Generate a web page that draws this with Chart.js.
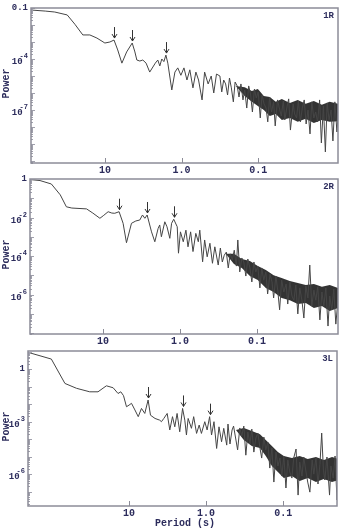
<!DOCTYPE html>
<html><head><meta charset="utf-8">
<script src="https://cdn.jsdelivr.net/npm/chart.js@4.4.1/dist/chart.umd.min.js"></script>
<style>
html,body{margin:0;padding:0;background:#fff;}
#wrap{position:relative;width:340px;height:531px;overflow:hidden;background:#fff;}
#wrap canvas{position:absolute;left:0;top:0;}
</style>
</head><body><div id="wrap"></div>
<script>
// ---------- shared axis labels ----------
const xTickValues = [10, 1, 0.1];
const xTickLabels = ['10', '1.0', '0.1'];
const xTitle = 'Period (s)';
const yTitle = 'Power';

// ---------- panel 1R ----------
const p1Period = [92, 60, 45, 31, 24.6, 19.4, 15.7, 12.7, 10, 8.6, 7.6, 6.8, 6.0, 5.2, 4.4, 4.06, 3.83, 3.5, 3.2, 2.9,
  2.6, 2.2, 2.04, 1.92, 1.81, 1.7, 1.6, 1.51, 1.34, 1.22, 1.12, 1.02, 0.93, 0.85, 0.78, 0.71, 0.65, 0.6, 0.54, 0.5,
  0.45, 0.41, 0.38, 0.35,
  0.316, 0.299, 0.282, 0.266, 0.251, 0.237, 0.224, 0.211, 0.2, 0.188, 0.178, 0.168, 0.158, 0.15, 0.141, 0.133, 0.126, 0.119, 0.112, 0.106,
  0.1, 0.094, 0.089, 0.084, 0.079, 0.075, 0.071, 0.067, 0.063, 0.06, 0.056, 0.053, 0.05, 0.047, 0.045, 0.042, 0.04, 0.038, 0.035, 0.0335,
  0.0316, 0.0299, 0.0282, 0.0266, 0.0251, 0.0237, 0.0224, 0.0211, 0.02, 0.0188, 0.0178, 0.0168, 0.0158, 0.015, 0.0141, 0.0133, 0.0126, 0.0119, 0.0112, 0.0106,
  0.01, 0.0094, 0.0089];
const p1Power = [7.6e-2, 6.6e-2, 5.8e-2, 3.9e-2, 1.1e-2, 2.6e-3, 2.6e-3, 1.7e-3, 8.7e-4, 1.0e-3, 1.3e-3, 3.4e-4, 5.7e-5, 2.6e-4, 8.7e-4, 2.6e-4, 8.7e-5, 7.6e-5, 8.7e-5, 5.7e-5,
  1.7e-5, 5.7e-5, 8.7e-5, 3.9e-5, 1e-4, 7e-5, 1.7e-4, 5.7e-5, 1.5e-6, 1.7e-5, 3e-5, 1.1e-5, 3e-5, 5.8e-6, 2.3e-5, 2e-6, 1.7e-5, 5.8e-6, 3.9e-7, 1.7e-5,
  3.4e-6, 1e-5, 1e-6, 1.3e-5,
  1e-5, 1.15e-6, 5.8e-6, 3.4e-6, 7.6e-7, 7.6e-6, 2e-6, 3e-7, 4.4e-6, 2.6e-6, 5.8e-7, 3.4e-6, 3.9e-7, 1.5e-6, 1.3e-7, 2.6e-6, 8.7e-7, 7.6e-8, 1.7e-6, 5.1e-7,
  1.15e-6, 3.4e-8, 7.6e-7, 2.3e-7, 1.3e-7, 2e-8, 5.8e-7, 7.6e-8, 3e-7, 1.15e-8, 3.9e-7, 1.3e-7, 4.4e-8, 3.4e-7, 2.6e-8, 1.7e-7, 4.5e-7, 6.6e-9, 2.3e-7, 5.8e-8,
  3.4e-8, 3.4e-7, 2e-8, 1.3e-7, 3.9e-7, 1.5e-8, 1e-7, 3.9e-9, 3e-7, 3.4e-8, 7.6e-8, 2e-8, 3.9e-7, 1.15e-9, 1.7e-7, 3.4e-10, 2.6e-7, 2.6e-8, 1e-7, 1.5e-9,
  3e-7, 5.1e-9, 1.7e-7];
const p1BandPeriod = [0.196, 0.15, 0.121, 0.101, 0.0845, 0.0706, 0.059, 0.0492, 0.0387, 0.0305, 0.024, 0.0188, 0.0148, 0.0117, 0.0089];
const p1BandHigh = [2.6e-6, 2.2e-6, 1.3e-6, 1.7e-6, 6.6e-7, 5.8e-7, 3e-7, 4.5e-7, 2.6e-7, 3.9e-7, 2.3e-7, 3.4e-7, 2e-7, 3e-7, 2.3e-7];
const p1BandLow = [2.6e-6, 6.6e-7, 3e-7, 1.7e-7, 1e-7, 4.4e-8, 5.8e-8, 2.6e-8, 3.4e-8, 2e-8, 3e-8, 1.7e-8, 2.6e-8, 2e-8, 2.2e-8];
const p1ArrowPeriod = [7.6, 4.4, 1.6];
const p1ArrowPower = [1.3e-3, 8.7e-4, 1.7e-4];
const p1YTickValues = [0.1, 1e-4, 1e-7];
const p1YTickLabels = ['0.1', '10^-4', '10^-7'];

// ---------- panel 2R ----------
const p2Period = [88, 66, 47, 36, 30, 25.5, 16.4, 13.6, 11, 9.8, 8.6, 7.7, 7.05, 6.2, 5.5, 4.97, 4.28, 3.76, 3.34, 3.08,
  2.87, 2.68, 2.35, 2.13, 1.93, 1.84, 1.75, 1.58, 1.48, 1.36, 1.29, 1.21, 1.09, 1.05, 0.99, 0.91, 0.84, 0.79, 0.73, 0.68,
  0.625, 0.58, 0.555, 0.51, 0.48, 0.445, 0.41, 0.38, 0.354, 0.32, 0.30, 0.283, 0.267, 0.251, 0.237, 0.223, 0.21, 0.198, 0.186, 0.178,
  0.168, 0.158, 0.149, 0.14, 0.132, 0.124, 0.117, 0.11, 0.104, 0.098, 0.092, 0.087, 0.082, 0.077, 0.073, 0.068, 0.064, 0.061, 0.057, 0.054,
  0.051, 0.048, 0.045, 0.042, 0.040, 0.0375, 0.0353, 0.0333, 0.0314, 0.0296, 0.0279, 0.0262, 0.0247, 0.0233, 0.0219, 0.0207, 0.0195, 0.0183, 0.0173, 0.0163,
  0.0153, 0.0144, 0.0136, 0.0128, 0.012, 0.0114, 0.0107, 0.0101, 0.0095, 0.0089];
const p2Power = [0.93, 0.83, 0.55, 0.15, 0.036, 0.031, 0.028, 0.017, 9.1e-3, 0.013, 0.02, 0.017, 0.0166, 0.02, 5e-3, 4.9e-4, 5e-3, 6.6e-3, 7.4e-3, 0.0135,
  9.1e-3, 0.0135, 1.8e-3, 5.5e-4, 2.7e-3, 4.1e-3, 1e-3, 6e-3, 3.3e-3, 8.3e-4, 5e-3, 8.1e-3, 3.3e-3, 1.4e-4, 1.8e-3, 5.5e-4, 2.2e-3, 3e-4, 1.8e-3, 1.7e-4,
  1.5e-3, 5.5e-4, 2.2e-3, 5e-5, 6.8e-4, 9.1e-5, 4.6e-4, 4.2e-5, 3e-4, 3.4e-5,
  2.6e-4, 4.9e-5, 1.1e-4, 1.6e-4, 2.4e-5, 1.3e-4, 6.2e-5, 2e-4, 3e-5, 6.8e-4,
  1.5e-5, 7.9e-5, 4.9e-5, 9.1e-6, 7e-5, 2.4e-5, 4.5e-6, 4.9e-5, 1.5e-5, 3e-5,
  2.2e-6, 2.4e-5, 5.6e-6, 1.5e-5, 1.07e-6, 1.15e-5, 4.5e-6, 6.6e-7, 9.1e-6, 1.7e-6,
  1.6e-7, 5.6e-6, 1.35e-6, 3.5e-6, 3.2e-7, 4.5e-6, 8.3e-7, 5.1e-7, 3.1e-6, 9.8e-8,
  2.2e-6, 5.1e-7, 6e-8, 2.8e-6, 6.6e-7, 3.4e-5, 2.5e-7, 1.7e-6, 5.1e-7, 2.5e-6,
  4.8e-8, 1.35e-6, 2.5e-7, 2.2e-6, 2.3e-8, 8.3e-7, 1.6e-7, 1.9e-6, 2.9e-8, 5.1e-7];
const p2BandPeriod = [0.255, 0.2, 0.158, 0.124, 0.098, 0.077, 0.061, 0.048, 0.0376, 0.0296, 0.0233, 0.0183, 0.0144, 0.0114, 0.0089];
const p2BandHigh = [1.3e-4, 1.3e-4, 7e-5, 5.5e-5, 3e-5, 1.9e-5, 1e-5, 7.2e-6, 5e-6, 4e-6, 3.1e-6, 3.5e-6, 2.5e-6, 3.1e-6, 2.2e-6];
const p2BandLow = [1.3e-4, 3.8e-5, 2.4e-5, 9.1e-6, 5.6e-6, 2.2e-6, 1.35e-6, 6.6e-7, 5.1e-7, 3.2e-7, 3.6e-7, 2e-7, 2.5e-7, 1.4e-7, 2e-7];
const p2ArrowPeriod = [6.2, 2.68, 1.21];
const p2ArrowPower = [0.02, 0.0135, 8.1e-3];
const p2YTickValues = [1, 1e-2, 1e-4, 1e-6];
const p2YTickLabels = ['1', '10^-2', '10^-4', '10^-6'];

// ---------- panel 3L ----------
const p3Period = [205, 102, 68, 48, 32.4, 25.3, 19.7, 16.1, 13.9, 12.8, 11.8, 10.8, 10, 9.3, 8.4, 7.6, 6.9, 6.25, 5.66, 5.27,
  4.6, 4.0, 3.8, 3.54, 3.2, 2.96, 2.73, 2.55, 2.38, 2.2, 2.02, 1.89, 1.8, 1.71, 1.55, 1.45, 1.33, 1.23, 1.15, 1.04,
  0.97, 0.9, 0.85, 0.79, 0.73, 0.68, 0.63, 0.59, 0.54,
  0.52, 0.49, 0.46, 0.44, 0.41, 0.39, 0.365, 0.344, 0.324, 0.305, 0.287, 0.27, 0.255, 0.24, 0.226, 0.213, 0.2, 0.19, 0.178, 0.168,
  0.158, 0.149, 0.14, 0.132, 0.124, 0.117, 0.11, 0.104, 0.098, 0.092, 0.087, 0.082, 0.077, 0.073, 0.068, 0.064, 0.061, 0.057, 0.054, 0.051,
  0.048, 0.045, 0.042, 0.04, 0.0375, 0.0353, 0.0333, 0.0316, 0.030, 0.0288, 0.027, 0.025, 0.024, 0.0224, 0.0212, 0.02, 0.0188];
const p3Power = [9.0, 3.7, 0.15, 0.079, 0.05, 0.05, 0.11, 0.085, 0.04, 0.05, 0.03, 7e-3, 8.7e-3, 0.011, 4.6e-3, 1.9e-3, 5.6e-3, 2.9e-3, 0.017, 2.3e-3,
  1.5e-3, 1.2e-3, 9.8e-4, 1.5e-3, 2.9e-3, 3.3e-4, 1.9e-3, 5e-4, 2.9e-3, 2.6e-4, 5.6e-3, 1.2e-3, 1.7e-4, 1.5e-3, 4.1e-4, 1.9e-3, 2.1e-4, 6.3e-4, 2.1e-4, 9.8e-4,
  3.3e-4, 1.9e-3, 1.7e-4, 9.8e-4, 2.9e-5, 5e-4, 7e-5, 4.1e-4, 4.5e-5,
  7.2e-4, 5.2e-5, 3.3e-4, 5.5e-4, 8.8e-5, 2.4e-5, 4.3e-4, 1.5e-4, 5.5e-4, 1.2e-5,
  2.5e-4, 5.2e-5, 3.7e-4, 1.8e-5, 1.15e-4, 2.2e-4, 3.1e-5, 8.2e-6, 1.3e-4, 2.4e-5,
  6.7e-5, 2.2e-6, 3.1e-5, 3.5e-7, 1.8e-5, 2.9e-6, 8.2e-6, 7.7e-7, 1.07e-5, 1.6e-7,
  6.3e-6, 1.3e-6, 5.9e-7, 8.2e-6, 2.7e-5, 6.3e-8, 4.9e-6, 7.7e-7, 9.4e-6, 1.7e-6,
  3.5e-7, 9.3e-8, 6.3e-6, 1e-6, 8.2e-6, 2.7e-7, 3.7e-6, 2.2e-4, 1.7e-6, 4.6e-7,
  9.4e-6, 6.3e-8, 2.9e-6, 5.9e-7, 1.07e-5, 3.3e-8, 4.9e-6];
const p3BandPeriod = [0.41, 0.324, 0.255, 0.2, 0.168, 0.14, 0.117, 0.098, 0.077, 0.061, 0.048, 0.0375, 0.0296, 0.0232, 0.0188];
const p3BandHigh = [3.3e-4, 4.3e-4, 2.9e-4, 1.9e-4, 8.8e-5, 4e-5, 1.8e-5, 1.07e-5, 8.2e-6, 1.07e-5, 7.2e-6, 9.4e-6, 6.3e-6, 9.4e-6, 7.2e-6];
const p3BandLow = [3.3e-4, 8.8e-5, 4e-5, 3.1e-5, 1.07e-5, 2.9e-6, 1.3e-6, 5.9e-7, 7.7e-7, 4e-7, 5.9e-7, 3.5e-7, 5.2e-7, 3.5e-7, 4.6e-7];
const p3ArrowPeriod = [5.66, 2.02, 0.9];
const p3ArrowPower = [0.017, 5.6e-3, 1.9e-3];
const p3YTickValues = [1, 1e-3, 1e-6];
const p3YTickLabels = ['1', '10^-3', '10^-6'];

// ---------- drawing ----------
const W = 340, H = 531;
const TEXT = '#2c2c5c';
const FAM = '"Liberation Mono", "DejaVu Sans Mono", monospace';
const FONT = 'bold 10px ' + FAM;
const YFONT = 'bold 9px ' + FAM;
const SMALL = 'bold 7px ' + FAM;

function pts(px, py) {
  const n = Math.min(px.length, py.length), out = [];
  for (let i = 0; i < n; i++) out.push({x: px[i], y: py[i]});
  return out;
}

const panels = [
  {name: '1R', period: p1Period, power: p1Power, bandP: p1BandPeriod, bandHi: p1BandHigh, bandLo: p1BandLow,
   arrowP: p1ArrowPeriod, arrowV: p1ArrowPower, yTicks: p1YTickValues, yLabels: p1YTickLabels,
   xMin: 0.0091, xMax: 92, yMin: 7.6e-11, yMax: 0.1, area: [31, 8, 338, 163], showXTitle: false},
  {name: '2R', period: p2Period, power: p2Power, bandP: p2BandPeriod, bandHi: p2BandHigh, bandLo: p2BandLow,
   arrowP: p2ArrowPeriod, arrowV: p2ArrowPower, yTicks: p2YTickValues, yLabels: p2YTickLabels,
   xMin: 0.0089, xMax: 89, yMin: 8.9e-9, yMax: 1, area: [30, 179, 338, 334], showXTitle: false},
  {name: '3L', period: p3Period, power: p3Power, bandP: p3BandPeriod, bandHi: p3BandHigh, bandLo: p3BandLow,
   arrowP: p3ArrowPeriod, arrowV: p3ArrowPower, yTicks: p3YTickValues, yLabels: p3YTickLabels,
   xMin: 0.02, xMax: 205, yMin: 1.5e-8, yMax: 10.7, area: [28, 351, 337, 506], showXTitle: true}
];

function decor(p) {
  return {
    id: 'decor' + p.name,
    afterDraw(chart) {
      const {ctx, chartArea: a, scales: {x, y}} = chart;
      ctx.save();
      // minor / major y ticks (inward)
      ctx.strokeStyle = '#a0a0ac';
      ctx.lineWidth = 1;
      const e0 = Math.floor(Math.log10(p.yMin)), e1 = Math.ceil(Math.log10(p.yMax));
      for (let e = e0; e <= e1; e++) {
        for (let m = 1; m < 10; m++) {
          const v = m * Math.pow(10, e);
          if (v < p.yMin || v > p.yMax) continue;
          const py = Math.round(y.getPixelForValue(v)) + 0.5;
          const len = m === 1 ? 4 : 2;
          ctx.beginPath(); ctx.moveTo(a.left, py); ctx.lineTo(a.left + len, py); ctx.stroke();
        }
      }
      // x ticks (inward)
      ctx.strokeStyle = '#8c8c98';
      xTickValues.forEach(v => {
        if (v < p.xMin || v > p.xMax) return;
        const px = Math.round(x.getPixelForValue(v)) + 0.5;
        ctx.beginPath(); ctx.moveTo(px, a.bottom); ctx.lineTo(px, a.bottom - 5); ctx.stroke();
      });
      // frame
      ctx.strokeStyle = '#8c8c98';
      ctx.lineWidth = 1.5;
      ctx.strokeRect(a.left, a.top, a.right - a.left, a.bottom - a.top);
      // arrows
      ctx.strokeStyle = '#333';
      ctx.lineWidth = 1;
      p.arrowP.forEach((per, i) => {
        const px = Math.round(x.getPixelForValue(per)) + 0.5;
        const tip = y.getPixelForValue(p.arrowV[i]) - 2;
        ctx.beginPath();
        ctx.moveTo(px, tip - 11); ctx.lineTo(px, tip);
        ctx.moveTo(px - 2.5, tip - 4); ctx.lineTo(px, tip); ctx.lineTo(px + 2.5, tip - 4);
        ctx.stroke();
      });
      // text
      ctx.fillStyle = TEXT;
      ctx.font = FONT;
      ctx.textAlign = 'center';
      ctx.textBaseline = 'middle';
      xTickValues.forEach((v, i) => {
        ctx.fillText(xTickLabels[i], x.getPixelForValue(v), a.bottom + 7);
      });
      p.yTicks.forEach((v, i) => {
        const lab = p.yLabels[i];
        const py = y.getPixelForValue(v);
        const rx = a.left - 3;
        ctx.textAlign = 'right';
        if (lab.indexOf('^') >= 0) {
          const parts = lab.split('^');
          ctx.font = SMALL;
          const ew = ctx.measureText(parts[1]).width;
          ctx.fillText(parts[1], rx, py - 2.5);
          ctx.font = YFONT;
          ctx.fillText(parts[0], rx - ew + 3, py + 3);
        } else {
          ctx.font = YFONT;
          ctx.fillText(lab, rx, py);
        }
      });
      // panel name
      ctx.font = 'bold 9px ' + FAM;
      ctx.textAlign = 'right';
      ctx.fillText(p.name, a.right - 4, a.top + 8);
      // y title
      ctx.font = FONT;
      ctx.save();
      ctx.translate(6, (a.top + a.bottom) / 2 - 2);
      ctx.rotate(-Math.PI / 2);
      ctx.textAlign = 'center';
      ctx.fillText(yTitle, 0, 0);
      ctx.restore();
      if (p.showXTitle) {
        ctx.textAlign = 'center';
        ctx.fillText(xTitle, 185, a.bottom + 17);
      }
      ctx.restore();
    }
  };
}

const wrap = document.getElementById('wrap');
panels.forEach(p => {
  const c = document.createElement('canvas');
  c.width = W; c.height = H;
  c.style.width = W + 'px'; c.style.height = H + 'px';
  wrap.appendChild(c);
  const [L, T, R, B] = p.area;
  new Chart(c, {
    type: 'line',
    data: {
      datasets: [
        {data: pts(p.period, p.power), borderColor: '#454545', borderWidth: 1, pointRadius: 0, fill: false, tension: 0, order: 0},
        {data: pts(p.bandP, p.bandHi), borderColor: 'rgba(0,0,0,0)', borderWidth: 0, pointRadius: 0, fill: false, tension: 0, order: 2},
        {data: pts(p.bandP, p.bandLo), borderColor: 'rgba(0,0,0,0)', borderWidth: 0, pointRadius: 0, fill: '-1',
         backgroundColor: 'rgba(15,15,15,0.85)', tension: 0, order: 1}
      ]
    },
    options: {
      responsive: false,
      animation: false,
      devicePixelRatio: 1,
      events: [],
      layout: {padding: {left: L, top: T, right: W - R, bottom: H - B}},
      plugins: {legend: {display: false}, tooltip: {enabled: false}},
      scales: {
        x: {type: 'logarithmic', reverse: true, min: p.xMin, max: p.xMax, display: false},
        y: {type: 'logarithmic', min: p.yMin, max: p.yMax, display: false}
      }
    },
    plugins: [decor(p)]
  });
});
</script>
</body></html>
